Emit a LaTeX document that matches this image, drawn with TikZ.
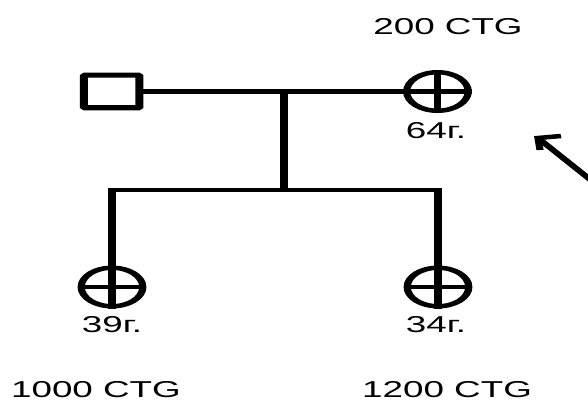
\documentclass[tikz,border=0pt]{standalone}
\usepackage{fontspec}
\setmainfont{Liberation Sans}
\begin{document}
\begin{tikzpicture}[x=1pt,y=-1pt,
  lbl/.style={inner sep=0pt, anchor=base, font=\fontsize{23}{26}\selectfont},
  ln/.style={line width=4.5pt},
  fem/.style={circle, draw, line width=4.5pt, minimum size=38.5pt, inner sep=0pt},
  male/.style={rectangle, draw, line width=5pt, minimum width=34.7pt, minimum height=32.5pt, inner sep=0pt, rounded corners=0.8pt}]
\useasboundingbox (0,0) rectangle (588,401);
\begin{scope}[transform canvas={xscale=1.6}]
\node[male] (m) at (69.8,91.5) {};
\node[fem] (w) at (273.4,91.5) {};
\node[fem] (d1) at (70,287) {};
\node[fem] (d2) at (273.75,287) {};
\coordinate (j1) at (177.5,91.5);
\coordinate (j2) at (177.5,190);
\coordinate (t1) at (70,190);
\coordinate (t2) at (273.75,190);
\draw[ln] (m.east) -- (w.west);
\draw[ln] (j1) -- (j2);
\draw[ln] ([xshift=-2.25pt]t1) -- ([xshift=2.25pt]t2);
\draw[ln] (t1) -- (d1.south);
\draw[ln] (t2) -- (d2.south);
\draw[ln] (w.north) -- (w.south);
\foreach \n in {w,d1,d2} \draw[ln] (\n.west) -- (\n.east);
\node[lbl] (t200) at (280,35) {200 CTG};
\node[lbl] (a64) at (272.5,138) {64г.};
\node[lbl] (a39) at (70,332) {39г.};
\node[lbl] (a34) at (272.5,332) {34г.};
\node[lbl] (c1000) at (60,397) {1000 CTG};
\node[lbl] (c1200) at (279.4,397) {1200 CTG};
\coordinate (atip) at (336.25,138);
\coordinate (aend) at (370,181);
\coordinate (bar1) at (350.6,136);
\coordinate (bar2) at (337.5,150);
\draw[ln] (aend) -- (atip);
\draw[ln, miter limit=20] (bar1) -- (atip) -- (bar2);
\end{scope}
\end{tikzpicture}
\end{document}
